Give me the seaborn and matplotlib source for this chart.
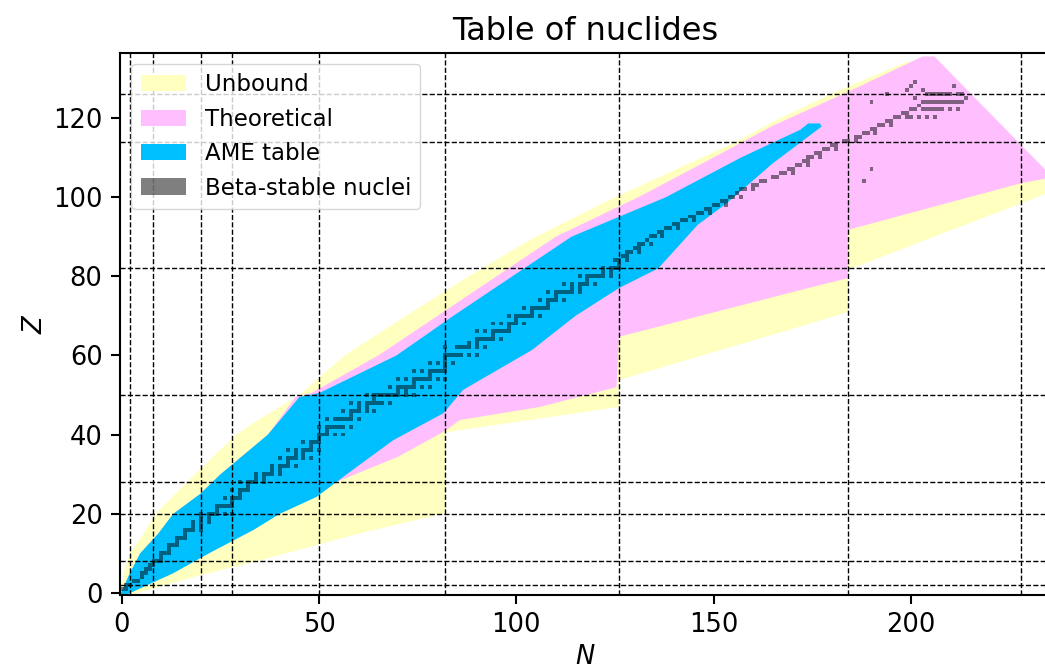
import numpy as np
import pandas as pd
import matplotlib
matplotlib.use("Agg")
import matplotlib.pyplot as plt
from matplotlib.patches import Patch
import seaborn as sns

# ---------------- data ----------------
# Region outlines as (Z, N) points: left edge (proton-rich side), right edge (neutron-rich side)
unbound_left_Z = [-0.5, 5, 10, 15, 20, 25, 30, 40, 44, 50, 60, 70, 80, 86.6, 90, 99, 113.6, 120, 127, 133.7, 135.5]
unbound_left_N = [-0.5, 0.5, 2.0, 5.5, 8.5, 13.5, 18.5, 29, 35, 45, 56.5, 72, 88, 99, 105, 123, 155, 167, 182, 198, 204]
unbound_right_Z = [-0.5, 0, 4, 8, 15, 20.2, 40.6, 47, 53.8, 67.3, 71, 81.6, 101.5, 104.5, 135.5]
unbound_right_N = [2, 4, 18, 34, 60, 82, 82, 126, 126, 172, 184, 184, 236, 236, 206]

theo_left_Z = [-0.5, 5, 10, 15, 20, 25, 30, 40, 49.5, 50.5, 60, 70, 80, 90, 100, 110, 118, 127, 135.5]
theo_left_N = [-0.5, 2, 4.6, 9.2, 13, 19.8, 25, 37, 44, 48, 65, 80, 95, 110, 131, 150, 165, 185, 203]
theo_right_Z = [-0.5, 5, 10, 18.4, 26, 34.4, 41, 43.7, 47, 52, 64.7, 76.5, 79.5, 91.7, 103.5, 105, 135.5]
theo_right_N = [1, 9, 22, 36, 49.4, 70, 82, 85.7, 106, 125.4, 126, 172, 184, 184, 228, 236, 206]

ame_left_Z = [-0.5, 5, 10, 15, 20, 25, 30, 40, 49.5, 50.5, 60, 70, 80, 90, 100, 110, 117, 118.6]
ame_left_N = [-0.5, 2, 4.6, 9.2, 13, 19.8, 25, 37, 45, 50, 69.6, 84, 99, 114, 138, 157, 172, 174]
ame_right_Z = [-0.5, 5, 10, 15.9, 20, 24.3, 30, 38.6, 45.4, 51.3, 61.4, 70, 77, 82, 93, 98.4, 108.5, 117.8, 118.6]
ame_right_N = [1, 13, 22, 33.3, 40, 49.4, 57, 68.8, 81.5, 86.5, 104, 115, 126, 136, 146, 153.3, 165, 177.4, 177]

# Beta-stable nuclei: neutron numbers for Z = 1, 2, 3, ...
beta_stable_N = [
    [0, 1], [1, 2], [3, 4], [5], [5, 6], [6, 7], [7, 8], [8, 9, 10], [10], [10, 11, 12],
    [12], [12, 13, 14], [14], [14, 15, 16], [16], [16, 17, 18, 20], [18, 20], [18, 20, 22], [20, 22],
    [20, 22, 23, 24, 26, 28], [24], [24, 25, 26, 27, 28], [28], [26, 28, 29, 30], [30], [28, 30, 31, 32],
    [32], [30, 32, 33, 34, 36], [34, 36], [34, 36, 37, 38, 40], [38, 40], [38, 40, 41, 42, 44], [42],
    [40, 42, 43, 44, 46, 48], [44, 46], [42, 44, 46, 47, 48, 50], [48], [46, 48, 49, 50], [50],
    [50, 51, 52, 54, 56], [52], [50, 52, 53, 54, 55, 56, 58], [], [52, 54, 55, 56, 57, 58, 60], [58],
    [56, 58, 59, 60, 62, 64], [60, 62], [58, 60, 62, 63, 64, 65, 66, 68], [64],
    [62, 64, 65, 66, 67, 68, 69, 70, 72, 74], [70, 72], [68, 70, 71, 72, 73, 74, 76, 78], [74],
    [70, 72, 74, 75, 76, 77, 78, 80, 82], [78], [74, 76, 78, 79, 80, 81, 82], [82], [78, 80, 82, 84],
    [82], [82, 83, 84, 85, 86, 88, 90], [], [82, 85, 86, 87, 88, 90, 92], [88, 90],
    [90, 91, 92, 93, 94, 96], [94], [90, 92, 94, 95, 96, 97, 98], [98], [94, 96, 98, 99, 100, 102],
    [100], [98, 100, 101, 102, 103, 104, 106], [104], [102, 104, 105, 106, 107, 108], [108],
    [106, 108, 109, 110, 112], [110], [108, 110, 111, 112, 113, 114, 116], [114, 116],
    [112, 114, 116, 117, 118, 120], [118], [116, 118, 119, 120, 121, 122, 124], [122, 124],
    [122, 124, 125, 126], [126],
    [125, 126, 128], [127, 128], [128, 129, 131], [130, 131], [131, 132, 134], [133],
    [134, 135, 137], [136, 137], [138, 139, 141], [140, 141], [142, 143, 145], [144, 145],
    [146, 147, 149], [148, 149], [150, 151, 153], [152, 153], [154, 155, 157], [156],
    [157, 158, 160], [160, 161], [162, 163, 188], [165, 166], [167, 168, 170], [169, 170, 190],
    [171, 172, 174], [173, 174], [174, 175, 177], [176, 177], [178, 179, 181], [180, 181],
    [183, 184, 186], [186, 187], [188, 189, 191], [190, 191], [192, 193, 195], [194, 195],
    [196, 197, 199, 200, 202, 204, 206], [198, 199], [200, 201, 203, 204, 205, 206, 207, 208, 210, 212],
    [202], [190, 203, 204, 205, 206, 207, 208, 209, 210, 211, 212, 213], [201, 214],
    [194, 204, 205, 206, 207, 208, 209, 210, 212, 213], [199, 203], [200, 211], [201],
]

magic_N = [2, 8, 20, 28, 50, 82, 126, 184, 228]
magic_Z = [2, 8, 20, 28, 50, 82, 114, 126]

legend_labels = ["Unbound", "Theoretical", "AME table", "Beta-stable nuclei"]
colors = ["#ffffbf", "#ffbfff", "#00bfff", (0, 0, 0, 0.5)]

# ---------------- styling ----------------
sns.set_theme(style="ticks", rc={
    "axes.edgecolor": "black", "text.color": "black", "axes.labelcolor": "black",
    "xtick.color": "black", "ytick.color": "black",
    "axes.linewidth": 1.5, "xtick.major.width": 1.5, "ytick.major.width": 1.5,
    "xtick.major.size": 6.5, "ytick.major.size": 6.5,
    "xtick.major.pad": 6, "ytick.major.pad": 6,
})
plt.rcParams["font.family"] = ["DejaVu Sans"]

DPI = 100
fig = plt.figure(figsize=(10.45, 6.70), dpi=DPI)
ax = fig.add_axes([0.1148, 0.1119, 0.8907, 0.8097])
XLIM = (-0.5, 235.5)
YLIM = (-0.5, 136.5)

def region(lz, ln, rz, rn, color, z):
    xs = list(ln) + list(rn)[::-1]
    ys = list(lz) + list(rz)[::-1]
    ax.fill(xs, ys, color=color, lw=0, zorder=z)

region(unbound_left_Z, unbound_left_N, unbound_right_Z, unbound_right_N, colors[0], 1)
region(theo_left_Z, theo_left_N, theo_right_Z, theo_right_N, colors[1], 1.1)
region(ame_left_Z, ame_left_N, ame_right_Z, ame_right_N, colors[2], 1.2)

# beta-stable cells as an RGBA grid on the (N, Z) axes
rows = [(n, z) for z, ns in enumerate(beta_stable_N, start=1) for n in ns]
df = pd.DataFrame(rows, columns=["N", "Z"])
grid = np.zeros((137, 236, 4))
grid[df["Z"].to_numpy(), df["N"].to_numpy()] = [0, 0, 0, 0.5]
ax.imshow(grid, origin="lower", extent=(-0.5, 235.5, -0.5, 136.5),
          interpolation="nearest", aspect="auto", zorder=2)

for n in magic_N:
    ax.axvline(n, color="black", ls="--", lw=1.0, zorder=3)
for zz in magic_Z:
    ax.axhline(zz, color="black", ls="--", lw=1.0, zorder=3)

ax.set_xlim(*XLIM)
ax.set_ylim(*YLIM)
ax.set_xticks([0, 50, 100, 150, 200])
ax.set_yticks([0, 20, 40, 60, 80, 100, 120])
ax.tick_params(labelsize=18.5)
ax.set_xlabel("$N$", fontsize=18.5)
ax.set_ylabel("$Z$", fontsize=18.5)
ax.set_title("Table of nuclides", fontsize=23, pad=9)

handles = [Patch(facecolor=c, edgecolor="none", label=l) for c, l in zip(colors, legend_labels)]
leg = ax.legend(handles=handles, loc="upper left", fontsize=16.5, frameon=True,
                fancybox=True, framealpha=0.8, edgecolor="#cccccc")
leg.set_zorder(5)

fig.savefig("out.png", dpi=DPI)
